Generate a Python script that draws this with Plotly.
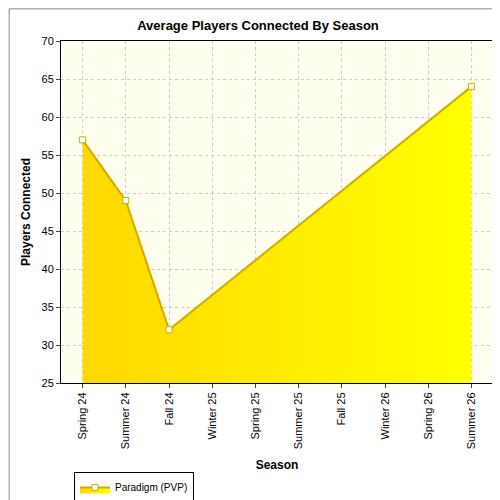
import plotly.graph_objects as go

seasons = ["Spring 24", "Summer 24", "Fall 24", "Winter 25", "Spring 25",
           "Summer 25", "Fall 25", "Winter 26", "Spring 26", "Summer 26"]
players = [57, 49, 32, None, None, None, None, None, None, 64]

fig = go.Figure()
fig.add_trace(go.Scatter(
    x=seasons, y=players, name="Paradigm (PVP)", mode="lines+markers",
    connectgaps=True, fill="tozeroy",
    fillgradient=dict(type="horizontal", colorscale=[[0, "#ffd800"], [1, "#ffff00"]]),
    line=dict(color="#d8a800", width=2),
    marker=dict(symbol="square", size=6, color="white", line=dict(color="#d8a800", width=1)),
))

fig.update_layout(
    width=500, height=500,
    margin=dict(l=53, r=15, t=33, b=125),
    paper_bgcolor="white", plot_bgcolor="#fffff0",
    font=dict(family="Liberation Sans, Arial", size=11, color="black"),
    title=dict(text="<b>Average Players Connected By Season</b>", x=0.5, y=0.975,
               xanchor="center", font=dict(size=13)),
    showlegend=True,
    legend=dict(x=0.03, y=0.01, yref="container", xanchor="left", yanchor="bottom",
                orientation="h", bordercolor="black", borderwidth=1, font=dict(size=10)),
    shapes=[dict(type="rect", xref="paper", yref="paper", x0=-0.12, x1=1.032, y0=-0.363, y1=1.094,
                 line=dict(color="#888888", width=1))],
)
fig.update_xaxes(title=dict(text="<b>Season</b>", font=dict(size=12)), tickangle=-90,
                 range=[-0.5, 9.5], automargin=False,
                 showgrid=True, gridcolor="#cccccc", griddash="dot",
                 showline=True, linecolor="black", mirror=True, ticks="outside", ticklen=4)
fig.update_yaxes(title=dict(text="<b>Players Connected</b>", font=dict(size=12), standoff=8),
                 range=[25, 70], dtick=5, automargin=False,
                 showgrid=True, gridcolor="#cccccc", griddash="dot",
                 showline=True, linecolor="black", mirror=True, ticks="outside", ticklen=4)

fig.write_html("out.html")
